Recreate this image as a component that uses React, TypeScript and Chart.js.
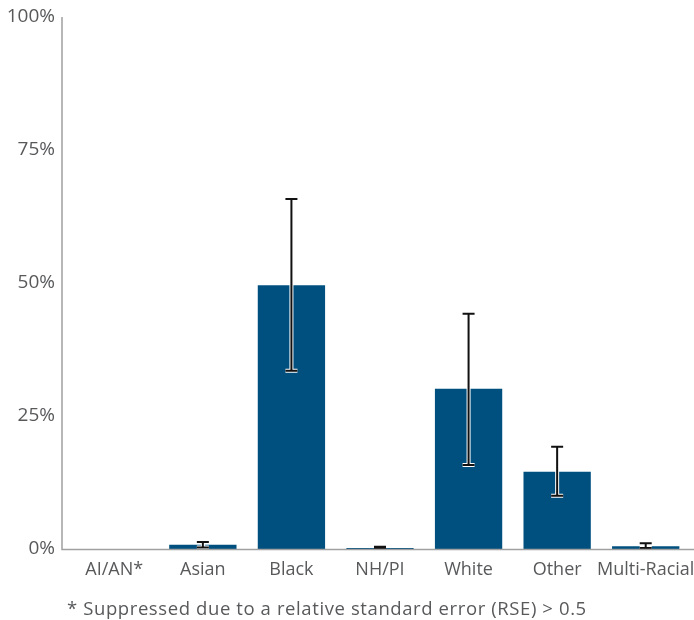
import React, { useEffect, useRef } from "react";
import { Chart, registerables } from "chart.js";

Chart.register(...registerables);

const categories = ["AI/AN*", "Asian", "Black", "NH/PI", "White", "Other", "Multi-Racial"];
const values: (number | null)[] = [null, 0.8, 49.6, 0.2, 30.1, 14.5, 0.5];
const errLow: (number | null)[] = [null, 0.3, 33.5, 0.1, 15.8, 10.0, 0.2];
const errHigh: (number | null)[] = [null, 1.3, 65.8, 0.4, 44.2, 19.2, 1.1];
const yTicks = [0, 25, 50, 75, 100];
const footnote = "* Suppressed due to a relative standard error (RSE) > 0.5";

const FONT = "'Open Sans', sans-serif";
const TEXT = "#58595b";
const BAR = "#00507f";
const AXIS = "#a0a0a0";

const axisPlugin = {
  id: "axisLines",
  afterDraw(chart: any) {
    const { ctx, chartArea, scales } = chart;
    const y = scales.y;
    const x0 = chartArea.left - 8;
    const yb = y.getPixelForValue(0) + 0.5;
    const yt = y.getPixelForValue(100);
    ctx.save();
    ctx.strokeStyle = AXIS;
    ctx.lineWidth = 1.5;
    ctx.beginPath();
    ctx.moveTo(x0, yt);
    ctx.lineTo(x0, yb);
    ctx.lineTo(chart.width, yb);
    ctx.stroke();
    ctx.restore();
  },
};

const errorPlugin = {
  id: "errorBars",
  afterDatasetsDraw(chart: any) {
    const { ctx, scales } = chart;
    const meta = chart.getDatasetMeta(0);
    ctx.save();
    meta.data.forEach((bar: any, i: number) => {
      const lo = errLow[i];
      const hi = errHigh[i];
      if (lo == null || hi == null) return;
      const x = bar.x;
      const yl = scales.y.getPixelForValue(lo);
      const yh = scales.y.getPixelForValue(hi);
      const cw = 6;
      const draw = (color: string, w: number) => {
        ctx.strokeStyle = color;
        ctx.lineWidth = w;
        ctx.lineCap = "butt";
        ctx.beginPath();
        ctx.moveTo(x, yl);
        ctx.lineTo(x, yh);
        ctx.moveTo(x - cw, yl);
        ctx.lineTo(x + cw, yl);
        ctx.moveTo(x - cw, yh);
        ctx.lineTo(x + cw, yh);
        ctx.stroke();
      };
      draw("#ffffff", 4);
      draw("#111111", 2);
    });
    ctx.restore();
  },
};

export default function App() {
  const ref = useRef<HTMLCanvasElement | null>(null);
  useEffect(() => {
    document.body.style.margin = "0";
    const chart = new Chart(ref.current as HTMLCanvasElement, {
      type: "bar",
      data: {
        labels: categories,
        datasets: [
          {
            data: values as any,
            backgroundColor: BAR,
            barPercentage: 0.76,
            categoryPercentage: 1,
          },
        ],
      },
      options: {
        animation: false,
        responsive: false,
        layout: { padding: { top: 17, right: 4, bottom: 36, left: 0 } },
        plugins: { legend: { display: false }, tooltip: { enabled: false } },
        scales: {
          x: {
            grid: { display: false, drawTicks: false },
            border: { display: false },
            ticks: { font: { family: FONT, size: 18 }, color: TEXT, padding: 10, maxRotation: 0, autoSkip: false },
            afterFit: (s: any) => {
              s.height = 35;
              s.paddingLeft = 0;
              s.paddingRight = 0;
            },
          },
          y: {
            min: 0,
            max: 100,
            afterBuildTicks: (s: any) => { s.ticks = yTicks.map((v) => ({ value: v })); },
            grid: { display: false, drawTicks: false },
            border: { display: false },
            ticks: {
              font: { family: FONT, size: 19 },
              color: TEXT,
              padding: 15,
              callback: (v: any) => v + "%",
            },
            afterFit: (s: any) => {
              s.width = 70;
              s.paddingTop = 0;
              s.paddingBottom = 0;
            },
          },
        },
      },
      plugins: [axisPlugin, errorPlugin],
    });
    return () => chart.destroy();
  }, []);
  return (
    <div style={{ position: "relative", width: 694, height: 620 }}>
      <canvas ref={ref} width={694} height={620} style={{ display: "block" }} />
      <div
        style={{
          position: "absolute",
          left: 67,
          top: 595,
          fontFamily: FONT,
          fontSize: 18.5,
          letterSpacing: "0.6px",
          color: TEXT,
          whiteSpace: "nowrap",
        }}
      >
        {footnote}
      </div>
    </div>
  );
}
